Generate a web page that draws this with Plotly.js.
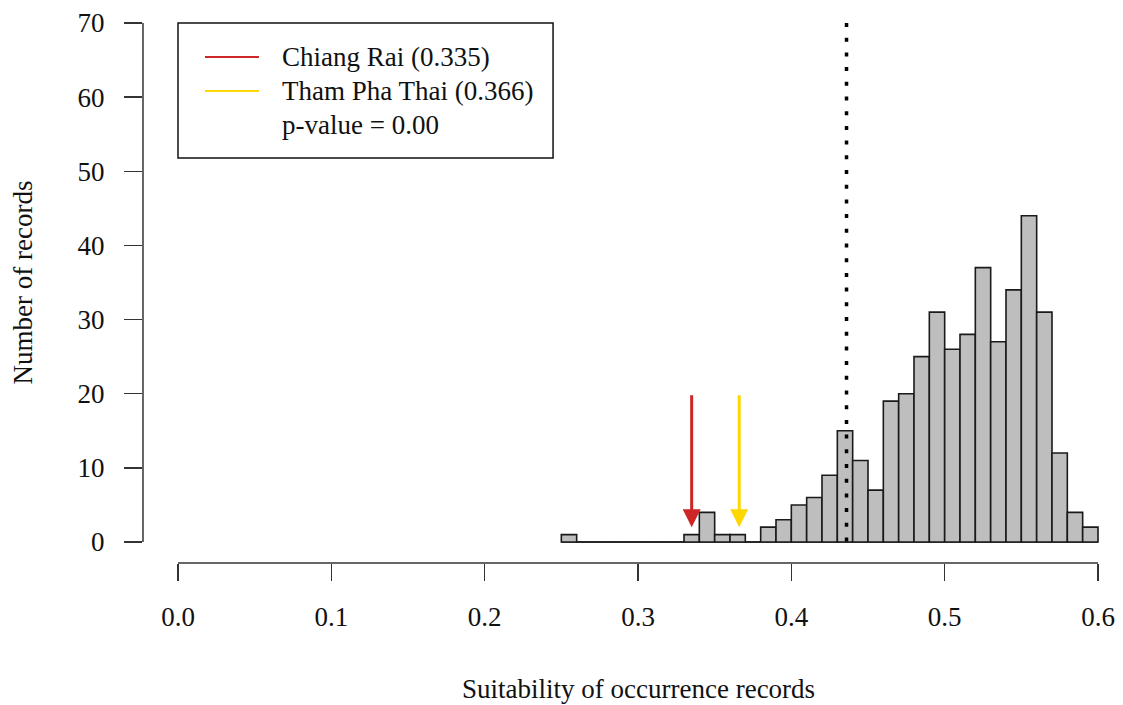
<!DOCTYPE html>
<html>
<head>
<meta charset="utf-8">
<script src="https://cdn.plot.ly/plotly-3.0.1.min.js"></script>
<style>html,body{margin:0;padding:0;background:#fff;}#chart{width:1123px;height:705px;}</style>
</head>
<body>
<div id="chart"></div>
<script>
// ---- data ----
const binLeft = [0.25,0.26,0.27,0.28,0.29,0.30,0.31,0.32,0.33,0.34,0.35,0.36,0.37,0.38,0.39,
                 0.40,0.41,0.42,0.43,0.44,0.45,0.46,0.47,0.48,0.49,0.50,0.51,0.52,0.53,0.54,
                 0.55,0.56,0.57,0.58,0.59];
const binWidth = 0.01;
const counts = [1,0,0,0,0,0,0,0,1,4,1,1,0,2,3,
                5,6,9,15,11,7,19,20,25,31,26,28,37,27,34,
                44,31,12,4,2];
const siteNames = ["Chiang Rai", "Tham Pha Thai"];
const siteValues = [0.335, 0.366];
const siteColors = ["#CD2626", "#FFD700"];
const pValueText = "p-value = 0.00";
const thresholdValue = 0.436;
const xTickVals = [0.0,0.1,0.2,0.3,0.4,0.5,0.6];
const xTickText = ["0.0","0.1","0.2","0.3","0.4","0.5","0.6"];
const yTickVals = [0,10,20,30,40,50,60,70];
const xTitle = "Suitability of occurrence records";
const yTitle = "Number of records";
const arrowTop = 20, arrowTip = 2;

// ---- layout geometry ----
const W = 1123, H = 705;
const mL = 143, mR = 8, mT = 10, mB = 142;
const xRange = [-0.022826, 0.611087];
const yRange = [-2.8324, 71.7534];
const FONT = "Liberation Serif, Times New Roman, serif";
const fs = 27;
const px = v => (v - xRange[0]) / (xRange[1] - xRange[0]);
const py = v => (v - yRange[0]) / (yRange[1] - yRange[0]);

const bars = {
  type: 'bar',
  x: binLeft,
  y: counts,
  width: binWidth,
  offset: 0,
  marker: {color: '#BEBEBE', line: {color: '#1a1a1a', width: 1.6}},
  hoverinfo: 'x+y',
  showlegend: false
};

const shapes = [];
// baseline under zero-count bins
shapes.push({type:'line', xref:'x', yref:'y', x0: binLeft[0], x1: binLeft[binLeft.length-1] + binWidth,
  y0: 0, y1: 0, line:{color:'#1a1a1a', width:1.6}, layer:'below'});
// R-style axis lines
shapes.push({type:'line', xref:'paper', yref:'paper', x0: 0, x1: 0,
  y0: py(yTickVals[0]), y1: py(yTickVals[yTickVals.length-1]), line:{color:'#333', width:1.5}});
shapes.push({type:'line', xref:'paper', yref:'paper', x0: px(xTickVals[0]), x1: px(xTickVals[xTickVals.length-1]),
  y0: 0, y1: 0, line:{color:'#333', width:1.5}});
// dotted threshold line
shapes.push({type:'line', xref:'x', yref:'y', x0: thresholdValue, x1: thresholdValue, y0: 70, y1: 0,
  line:{color:'#000', width:3.5, dash:'4px,10.7px'}});
// legend box
shapes.push({type:'rect', xref:'x', yref:'y', x0: 0, x1: 0.2446, y0: 51.79, y1: 70,
  line:{color:'#111', width:1.5}, fillcolor:'rgba(255,255,255,0)'});
// legend lines
const legRowY = [70 - (57-23)/7.4143, 70 - (91-23)/7.4143, 70 - (125-23)/7.4143];
siteNames.forEach((n,i) => {
  shapes.push({type:'line', xref:'x', yref:'y', x0: 0.0176, x1: 0.0528, y0: legRowY[i], y1: legRowY[i],
    line:{color: siteColors[i], width:2}});
});

const annotations = [];
siteNames.forEach((n,i) => {
  annotations.push({xref:'x', yref:'y', x: siteValues[i], y: arrowTip, ax: siteValues[i], ay: arrowTop,
    axref:'x', ayref:'y', text:'', showarrow:true, arrowhead:2, arrowsize:1.2, arrowwidth:3,
    arrowcolor: siteColors[i], standoff:0});
  annotations.push({xref:'x', yref:'y', x: 0.0672, y: legRowY[i], xanchor:'left', yanchor:'middle',
    text: n + ' (' + siteValues[i].toFixed(3) + ')', showarrow:false, borderpad:0,
    font:{family:FONT, size:fs, color:'#111'}});
});
annotations.push({xref:'x', yref:'y', x: 0.0672, y: legRowY[2], xanchor:'left', yanchor:'middle',
  text: pValueText, showarrow:false, borderpad:0, font:{family:FONT, size:fs, color:'#111'}});
// axis titles
annotations.push({xref:'x', yref:'paper', x: (xTickVals[0]+xTickVals[xTickVals.length-1])/2,
  y: (563-689)/(H-mT-mB), xanchor:'center', yanchor:'middle', text: xTitle, showarrow:false,
  font:{family:FONT, size:fs, color:'#111'}});
annotations.push({xref:'paper', yref:'y', x: (22-mL)/(W-mL-mR), y: 35, xanchor:'center', yanchor:'middle',
  text: yTitle, textangle:-90, showarrow:false, font:{family:FONT, size:fs, color:'#111'}});

const layout = {
  width: W, height: H,
  margin: {l:mL, r:mR, t:mT, b:mB, pad:0},
  paper_bgcolor:'#fff', plot_bgcolor:'#fff',
  showlegend:false,
  bargap:0,
  font:{family:FONT, size:fs, color:'#111'},
  xaxis:{range:xRange, showgrid:false, zeroline:false, showline:false,
    tickmode:'array', tickvals:xTickVals, ticktext:xTickText,
    ticks:'outside', ticklen:17, tickwidth:1.5, tickcolor:'#333', ticklabelstandoff:13,
    tickfont:{family:FONT, size:fs, color:'#111'}},
  yaxis:{range:yRange, showgrid:false, zeroline:false, showline:false,
    tickmode:'array', tickvals:yTickVals, ticktext:yTickVals.map(String),
    ticks:'outside', ticklen:18, tickwidth:1.5, tickcolor:'#333', ticklabelstandoff:14,
    tickfont:{family:FONT, size:fs, color:'#111'}},
  shapes: shapes,
  annotations: annotations
};

Plotly.newPlot('chart', [bars], layout, {displayModeBar:false, staticPlot:true});
</script>
</body>
</html>
